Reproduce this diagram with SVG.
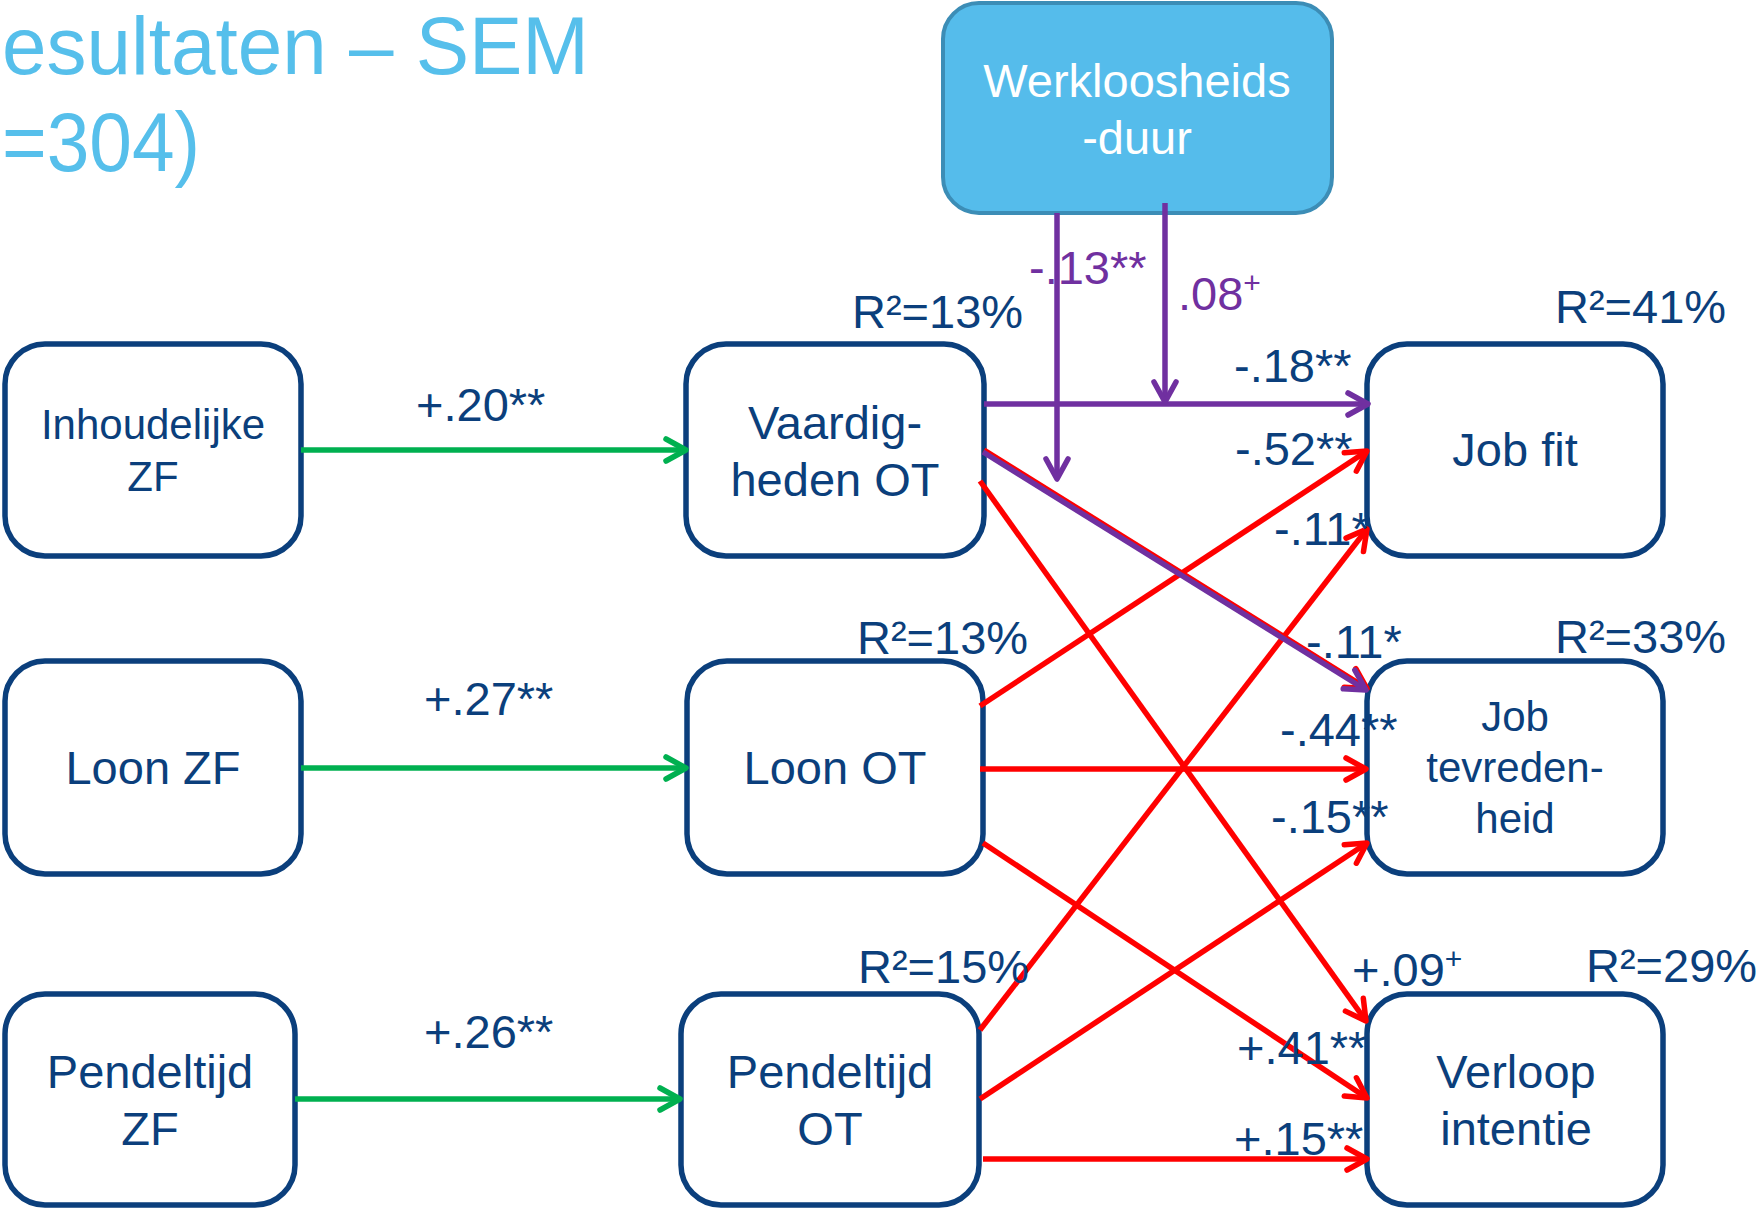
<svg xmlns="http://www.w3.org/2000/svg" width="1759" height="1208" viewBox="0 0 1759 1208">
<style>
text{font-family:"Liberation Sans",Arial,sans-serif;}
.node rect{fill:#fff;stroke:#0B3F7C;stroke-width:5.5;}
.nt{fill:#0B3F7C;font-size:47px;text-anchor:middle;}
.nts{fill:#0B3F7C;font-size:42px;text-anchor:middle;}
.lbl{fill:#0B3F7C;font-size:47px;}
.plbl{fill:#7030A0;font-size:47px;}
.title{fill:#56BFEB;font-size:84px;}
.g{stroke:#00B050;stroke-width:5.5;fill:none;marker-end:url(#ag);}
.p{stroke:#7030A0;stroke-width:5.5;fill:none;marker-end:url(#ap);}
.r{stroke:#FF0000;stroke-width:5.5;fill:none;marker-end:url(#ar);}
</style>
<defs>
<marker id="ag" markerUnits="userSpaceOnUse" orient="auto" refX="0" refY="0" markerWidth="40" markerHeight="40" style="overflow:visible"><path d="M-20,-11 L0,0 L-20,11" fill="none" stroke="#00B050" stroke-width="5.5" stroke-linecap="round" stroke-linejoin="round"/></marker>
<marker id="ap" markerUnits="userSpaceOnUse" orient="auto" refX="0" refY="0" markerWidth="40" markerHeight="40" style="overflow:visible"><path d="M-20,-11 L0,0 L-20,11" fill="none" stroke="#7030A0" stroke-width="5.5" stroke-linecap="round" stroke-linejoin="round"/></marker>
<marker id="ar" markerUnits="userSpaceOnUse" orient="auto" refX="0" refY="0" markerWidth="40" markerHeight="40" style="overflow:visible"><path d="M-20,-11 L0,0 L-20,11" fill="none" stroke="#FF0000" stroke-width="5.5" stroke-linecap="round" stroke-linejoin="round"/></marker>
</defs>
<rect width="1759" height="1208" fill="#fff"/>
<text class="title" x="2" y="74" style="font-size:81px" textLength="587" lengthAdjust="spacingAndGlyphs">esultaten – SEM</text>
<text class="title" x="2" y="171" textLength="198" lengthAdjust="spacingAndGlyphs">=304)</text>

<g id="n1" class="node"><rect x="5" y="344" width="296" height="212" rx="40"/><text class="nts" x="153" y="439">Inhoudelijke</text><text class="nts" x="153" y="491">ZF</text></g>
<g id="n2" class="node"><rect x="5" y="661" width="296" height="213" rx="40"/><text class="nt" x="153" y="784">Loon ZF</text></g>
<g id="n3" class="node"><rect x="5" y="994" width="290" height="211" rx="40"/><text class="nt" x="150" y="1088">Pendeltijd</text><text class="nt" x="150" y="1145">ZF</text></g>
<g id="n4" class="node"><rect x="686" y="344" width="298" height="212" rx="40"/><text class="nt" x="835" y="439">Vaardig-</text><text class="nt" x="835" y="496">heden OT</text></g>
<g id="n5" class="node"><rect x="687" y="661" width="296" height="213" rx="40"/><text class="nt" x="835" y="784">Loon OT</text></g>
<g id="n6" class="node"><rect x="681" y="994" width="298" height="211" rx="40"/><text class="nt" x="830" y="1088">Pendeltijd</text><text class="nt" x="830" y="1145">OT</text></g>
<g id="n7" class="node"><rect x="1367" y="344" width="296" height="212" rx="40"/><text class="nt" x="1515" y="466">Job fit</text></g>
<g id="n8" class="node"><rect x="1367" y="661" width="296" height="213" rx="40"/><text class="nts" x="1515" y="731">Job</text><text class="nts" x="1515" y="782">tevreden-</text><text class="nts" x="1515" y="833">heid</text></g>
<g id="n9" class="node"><rect x="1367" y="994" width="296" height="211" rx="40"/><text class="nt" x="1516" y="1088">Verloop</text><text class="nt" x="1516" y="1145">intentie</text></g>
<g id="n0"><rect x="943" y="3" width="389" height="210" rx="36" fill="#55BCEB" stroke="#3C8DB6" stroke-width="4"/><text class="nt" x="1137" y="97" style="fill:#fff">Werkloosheids</text><text class="nt" x="1137" y="154" style="fill:#fff">-duur</text></g>

<g id="connectors">
<line class="g" x1="301" y1="450" x2="686" y2="450"/>
<line class="g" x1="301" y1="768" x2="686" y2="768"/>
<line class="g" x1="295" y1="1099" x2="680" y2="1099"/>
<line class="r" x1="980" y1="481" x2="1366" y2="1021"/>
<line class="r" x1="980" y1="706" x2="1367" y2="451"/>
<line class="r" x1="980" y1="769" x2="1366" y2="769"/>
<line class="r" x1="983" y1="843" x2="1367" y2="1098"/>
<line class="r" x1="980" y1="1030" x2="1367" y2="529"/>
<line class="r" x1="980" y1="1099" x2="1367" y2="843"/>
<line class="r" x1="983" y1="1159" x2="1367" y2="1159"/>
<line class="r" x1="984" y1="450" x2="1367" y2="688.5"/>
<line class="p" x1="983" y1="452" x2="1366" y2="690"/>
<line class="p" x1="984" y1="404" x2="1368" y2="404"/>
<line class="p" x1="1165" y1="203" x2="1165" y2="402"/>
<line class="p" x1="1057" y1="213" x2="1057" y2="479"/>
</g>

<g id="labels">
<text class="lbl" x="416" y="421">+.20**</text>
<text class="lbl" x="424" y="715">+.27**</text>
<text class="lbl" x="424" y="1048">+.26**</text>
<text class="plbl" x="1029" y="284">-.13**</text>
<text class="plbl" x="1178" y="310">.08<tspan font-size="30" dy="-17">+</tspan></text>
<text class="lbl" x="1234" y="382">-.18**</text>
<text class="lbl" x="1235" y="465">-.52**</text>
<text class="lbl" x="1274" y="545">-.11*</text>
<text class="lbl" x="1306" y="658">-.11*</text>
<text class="lbl" x="1280" y="746">-.44**</text>
<text class="lbl" x="1271" y="833">-.15**</text>
<text class="lbl" x="1352" y="986">+.09<tspan font-size="30" dy="-17">+</tspan></text>
<text class="lbl" x="1237" y="1064">+.41**</text>
<text class="lbl" x="1234" y="1155">+.15**</text>
<text class="lbl" x="852" y="328">R²=13%</text>
<text class="lbl" x="1555" y="323">R²=41%</text>
<text class="lbl" x="857" y="654">R²=13%</text>
<text class="lbl" x="1555" y="653">R²=33%</text>
<text class="lbl" x="858" y="983">R²=15%</text>
<text class="lbl" x="1586" y="982">R²=29%</text>
</g>
</svg>
